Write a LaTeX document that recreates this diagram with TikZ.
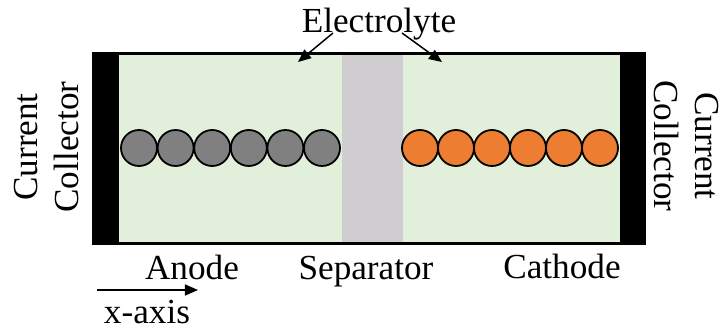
\documentclass[tikz,border=0pt]{standalone}
\usepackage{fontspec}
\setmainfont{Liberation Serif}
\usetikzlibrary{arrows.meta}
\definecolor{electrolyte}{RGB}{226,239,218}
\definecolor{separatorgray}{RGB}{207,205,207}
\definecolor{anodegray}{RGB}{128,128,128}
\definecolor{cathodeorange}{RGB}{237,125,49}
\begin{document}
\begin{tikzpicture}[x=0.5pt,y=-0.5pt,
  lbl/.style={font=\fontsize{17.6}{20.5}\selectfont, inner sep=0pt},
  particle/.style={circle, draw=black, line width=0.9pt, minimum size=18pt, inner sep=0pt},
  anodeparticle/.style={particle, fill=anodegray},
  cathodeparticle/.style={particle, fill=cathodeorange},
  pointer/.style={line width=0.75pt, -{Triangle[length=6.5pt,width=5.5pt]}}]
\useasboundingbox (0,0) rectangle (720,331);
% electrolyte domain and separator
\fill[electrolyte] (119,55) rectangle (620,242);
\fill[separatorgray] (342,55) rectangle (403,242);
% current collectors
\fill[black] (92,52) rectangle (119,245);
\fill[black] (620,52) rectangle (646,245);
\draw[line width=1.5pt] (92,53.5) -- (646,53.5);
\draw[line width=1.5pt] (92,243.5) -- (646,243.5);
% anode particles
\foreach \i [count=\k] in {0,...,5}
  \node[anodeparticle] (a\k) at (139+36.6*\i,148) {};
% cathode particles
\foreach \i [count=\k] in {0,...,5}
  \node[cathodeparticle] (c\k) at (420+36*\i,148) {};
% labels
\node[lbl, anchor=base] (elyte) at (379,33) {Electrolyte};
\coordinate (eL) at (298,62);
\coordinate (eR) at (442,62);
\draw[pointer] (333,33) -- (eL);
\draw[pointer] (402,33) -- (eR);
\node[lbl, anchor=base] (anode) at (192,280) {Anode};
\node[lbl, anchor=base] (sep) at (366,280) {Separator};
\node[lbl, anchor=base] (cath) at (562,279) {Cathode};
\node[lbl, rotate=90, align=center] (ccL) at (47,147) {Current\\Collector};
\node[lbl, rotate=-90, align=center] (ccR) at (686,146) {Current\\Collector};
% x-axis direction
\coordinate (xs) at (97,290);
\coordinate (xe) at (198,290);
\draw[pointer] (xs) -- (xe);
\node[lbl, anchor=base] (xaxis) at (147,324) {x-axis};
\end{tikzpicture}
\end{document}
